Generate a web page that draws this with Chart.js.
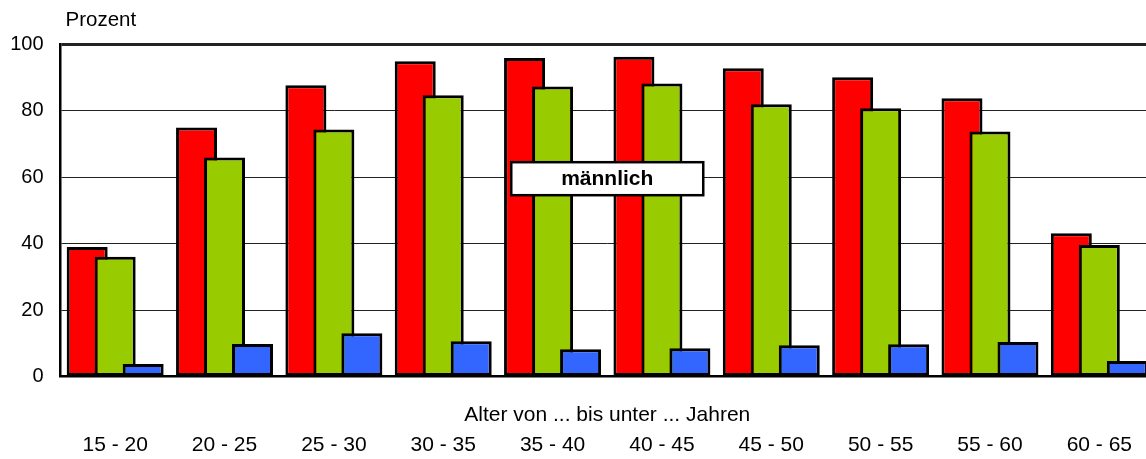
<!DOCTYPE html>
<html>
<head>
<meta charset="utf-8">
<script src="https://cdn.jsdelivr.net/npm/chart.js@4.4.1/dist/chart.umd.min.js"></script>
<style>
html,body{margin:0;padding:0;overflow:hidden;background:#fff;}
canvas{display:block;}
</style>
</head>
<body>
<canvas id="c" width="1154" height="459"></canvas>
<script>
const categories = ['15 - 20','20 - 25','25 - 30','30 - 35','35 - 40','40 - 45','45 - 50','50 - 55','55 - 60','60 - 65'];
const erwerbsquote = [39.0, 74.9, 87.6, 94.8, 95.8, 96.2, 92.7, 90.0, 83.7, 43.1];
const erwerbstaetigenquote = [36.0, 65.9, 74.3, 84.6, 87.2, 88.1, 81.9, 80.7, 73.7, 39.6];
const erwerbslosenquote = [3.8, 9.8, 13.0, 10.6, 8.2, 8.5, 9.4, 9.7, 10.4, 4.7];
const yTicks = [0, 20, 40, 60, 80, 100];
const yAxisTitle = 'Prozent';
const xAxisTitle = 'Alter von ... bis unter ... Jahren';
const boxLabel = 'männlich';

const FONT = '"Liberation Sans", Arial, Helvetica, sans-serif';
Chart.defaults.font.family = FONT;
Chart.defaults.color = '#000';

const drawOrderPlugin = {
  id: 'drawOrder',
  beforeDatasetsDraw(chart) {
    const metas = chart.getSortedVisibleDatasetMetas();
    for (const m of metas) m.controller.draw();
    return false;
  }
};

const labelsPlugin = {
  id: 'labels',
  afterDraw(chart) {
    const {ctx, chartArea, scales} = chart;
    ctx.save();
    ctx.fillStyle = '#000';
    ctx.font = '20.5px ' + FONT;
    ctx.textAlign = 'left';
    ctx.textBaseline = 'alphabetic';
    ctx.fillText(yAxisTitle, chartArea.left + 5, chartArea.top - 18);
    const cx = (chartArea.left + chartArea.right) / 2;
    const cy = scales.y.getPixelForValue(59.5);
    const w = 192, h = 33;
    ctx.fillStyle = '#fff';
    ctx.fillRect(cx - w / 2, cy - h / 2, w, h);
    ctx.lineWidth = 2.5;
    ctx.strokeStyle = '#000';
    ctx.strokeRect(cx - w / 2, cy - h / 2, w, h);
    ctx.fillStyle = '#000';
    ctx.font = 'bold 21px ' + FONT;
    ctx.textAlign = 'center';
    ctx.textBaseline = 'middle';
    ctx.fillText(boxLabel, cx, cy + 1);
    ctx.restore();
  }
};

const barCommon = {
  borderColor: '#000',
  borderWidth: 3,
  borderSkipped: false,
  categoryPercentage: 0.768,
  barPercentage: 1.464
};

new Chart(document.getElementById('c'), {
  type: 'bar',
  data: {
    labels: categories,
    datasets: [
      Object.assign({label: 'Erwerbsquote', data: erwerbsquote, backgroundColor: '#FF0000'}, barCommon),
      Object.assign({label: 'Erwerbstätigenquote', data: erwerbstaetigenquote, backgroundColor: '#99CC00'}, barCommon),
      Object.assign({label: 'Erwerbslosenquote', data: erwerbslosenquote, backgroundColor: '#3366FF'}, barCommon)
    ]
  },
  options: {
    responsive: false,
    animation: false,
    layout: {padding: {top: 44, left: 10, right: 0, bottom: -2}},
    plugins: {legend: {display: false}, tooltip: {enabled: false}},
    scales: {
      x: {
        position: 'bottom',
        weight: 0,
        grid: {display: false, drawTicks: false},
        border: {display: true, color: '#000', width: 2.5},
        ticks: {display: false},
        title: {display: true, text: xAxisTitle, font: {size: 21}, color: '#000', padding: {top: 26, bottom: 2}}
      },
      x2: {
        type: 'category',
        labels: categories,
        position: 'bottom',
        weight: 1,
        grid: {display: false, drawTicks: false},
        border: {display: false},
        ticks: {font: {size: 21}, color: '#000', padding: 3, maxRotation: 0, autoSkip: false}
      },
      y: {
        min: 0,
        max: 100,
        afterBuildTicks: s => { s.ticks = yTicks.map(v => ({value: v})); },
        afterFit: s => { s.width = 50.5; },
        grid: {
          drawTicks: false,
          color: '#222',
          lineWidth: c => (c.tick && c.tick.value === 100) ? 3 : 1
        },
        border: {display: true, color: '#000', width: 2.5},
        ticks: {font: {size: 20}, color: '#000', padding: 17}
      }
    }
  },
  plugins: [drawOrderPlugin, labelsPlugin]
});
</script>
</body>
</html>
